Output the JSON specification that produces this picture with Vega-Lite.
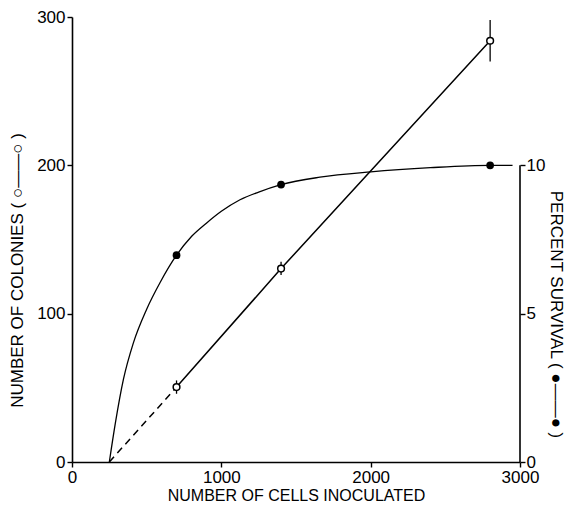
{
  "$schema": "https://vega.github.io/schema/vega-lite/v6.json",
  "autosize": {"type": "none"},
  "padding": {"left": 72, "top": 17, "right": 48, "bottom": 51},
  "width": 448,
  "height": 445,
  "background": "white",
  "config": {
    "view": {"stroke": null},
    "font": "Liberation Sans",
    "axis": {
      "grid": false,
      "domainColor": "black",
      "domainWidth": 1.6,
      "tickColor": "black",
      "tickWidth": 1.4,
      "tickSize": 5,
      "labelColor": "black",
      "labelFont": "Liberation Sans",
      "labelFontSize": 17,
      "titleColor": "black",
      "titleFont": "Liberation Sans",
      "titleFontSize": 16,
      "titleFontWeight": "normal"
    }
  },
  "datasets": {
    "colonies": [
      {"cells": 700, "colonies": 50.5, "lo": 46, "hi": 55},
      {"cells": 1400, "colonies": 130.4, "lo": 126, "hi": 135},
      {"cells": 2800, "colonies": 284, "lo": 270, "hi": 298}
    ],
    "coloniesExtrap": [
      {"cells": 250, "colonies": 0},
      {"cells": 700, "colonies": 50.5}
    ],
    "survivalPts": [
      {"cells": 700, "survival": 6.97},
      {"cells": 1400, "survival": 9.35},
      {"cells": 2800, "survival": 10}
    ],
    "survivalCurve": [
      {"cells": 250, "survival": 0},
      {"cells": 290, "survival": 1.3},
      {"cells": 345, "survival": 2.8},
      {"cells": 410, "survival": 4.0},
      {"cells": 500, "survival": 5.15},
      {"cells": 590, "survival": 6.05},
      {"cells": 700, "survival": 6.97},
      {"cells": 800, "survival": 7.6},
      {"cells": 900, "survival": 8.05},
      {"cells": 1000, "survival": 8.45},
      {"cells": 1125, "survival": 8.84},
      {"cells": 1250, "survival": 9.1},
      {"cells": 1400, "survival": 9.35},
      {"cells": 1660, "survival": 9.6},
      {"cells": 2000, "survival": 9.78},
      {"cells": 2400, "survival": 9.92},
      {"cells": 2800, "survival": 10},
      {"cells": 2950, "survival": 10}
    ],
    "rightAxis": [
      {"cells": 3000, "from": 0, "to": 10}
    ]
  },
  "layer": [
    {
      "layer": [
        {
          "data": {"name": "coloniesExtrap"},
          "mark": {"type": "line", "color": "black", "strokeWidth": 1.5, "strokeDash": [7, 5]},
          "encoding": {
            "x": {"field": "cells", "type": "quantitative", "scale": {"domain": [0, 3000], "nice": false},
              "axis": {"values": [0, 1000, 2000, 3000], "format": "d", "title": "NUMBER OF CELLS INOCULATED", "labelFlush": false, "titlePadding": 2}},
            "y": {"field": "colonies", "type": "quantitative", "scale": {"domain": [0, 300], "nice": false},
              "axis": {"orient": "left", "values": [0, 100, 200, 300], "format": "d", "title": "NUMBER OF COLONIES  (  ○——○  )", "titleFontSize": 17, "titlePadding": 10, "titleY": 253}}
          }
        },
        {
          "data": {"name": "colonies"},
          "mark": {"type": "line", "color": "black", "strokeWidth": 1.5},
          "encoding": {
            "x": {"field": "cells", "type": "quantitative"},
            "y": {"field": "colonies", "type": "quantitative"}
          }
        },
        {
          "data": {"name": "colonies"},
          "mark": {"type": "rule", "color": "black", "strokeWidth": 1.3},
          "encoding": {
            "x": {"field": "cells", "type": "quantitative"},
            "y": {"field": "lo", "type": "quantitative"},
            "y2": {"field": "hi"}
          }
        },
        {
          "data": {"name": "colonies"},
          "mark": {"type": "point", "shape": "circle", "filled": true, "fill": "white", "stroke": "black", "strokeWidth": 1.5, "size": 45, "opacity": 1},
          "encoding": {
            "x": {"field": "cells", "type": "quantitative"},
            "y": {"field": "colonies", "type": "quantitative"}
          }
        }
      ]
    },
    {
      "layer": [
        {
          "data": {"name": "survivalCurve"},
          "mark": {"type": "line", "color": "black", "strokeWidth": 1.3, "interpolate": "monotone"},
          "encoding": {
            "x": {"field": "cells", "type": "quantitative"},
            "y": {"field": "survival", "type": "quantitative", "scale": {"domain": [0, 15], "nice": false},
              "axis": {"orient": "right", "values": [0, 5, 10], "format": "d", "domain": false, "labelPadding": 1, "title": "PERCENT SURVIVAL  (  ●——●  )", "titleFontSize": 17, "titleAngle": 90, "titleY": 297, "titlePadding": 2}}
          }
        },
        {
          "data": {"name": "survivalPts"},
          "mark": {"type": "point", "shape": "circle", "filled": true, "color": "black", "size": 60, "opacity": 1},
          "encoding": {
            "x": {"field": "cells", "type": "quantitative"},
            "y": {"field": "survival", "type": "quantitative"}
          }
        },
        {
          "data": {"name": "rightAxis"},
          "mark": {"type": "rule", "color": "black", "strokeWidth": 1.6},
          "encoding": {
            "x": {"field": "cells", "type": "quantitative"},
            "y": {"field": "from", "type": "quantitative"},
            "y2": {"field": "to"}
          }
        }
      ]
    }
  ],
  "resolve": {"scale": {"y": "independent"}, "axis": {"y": "independent"}}
}
